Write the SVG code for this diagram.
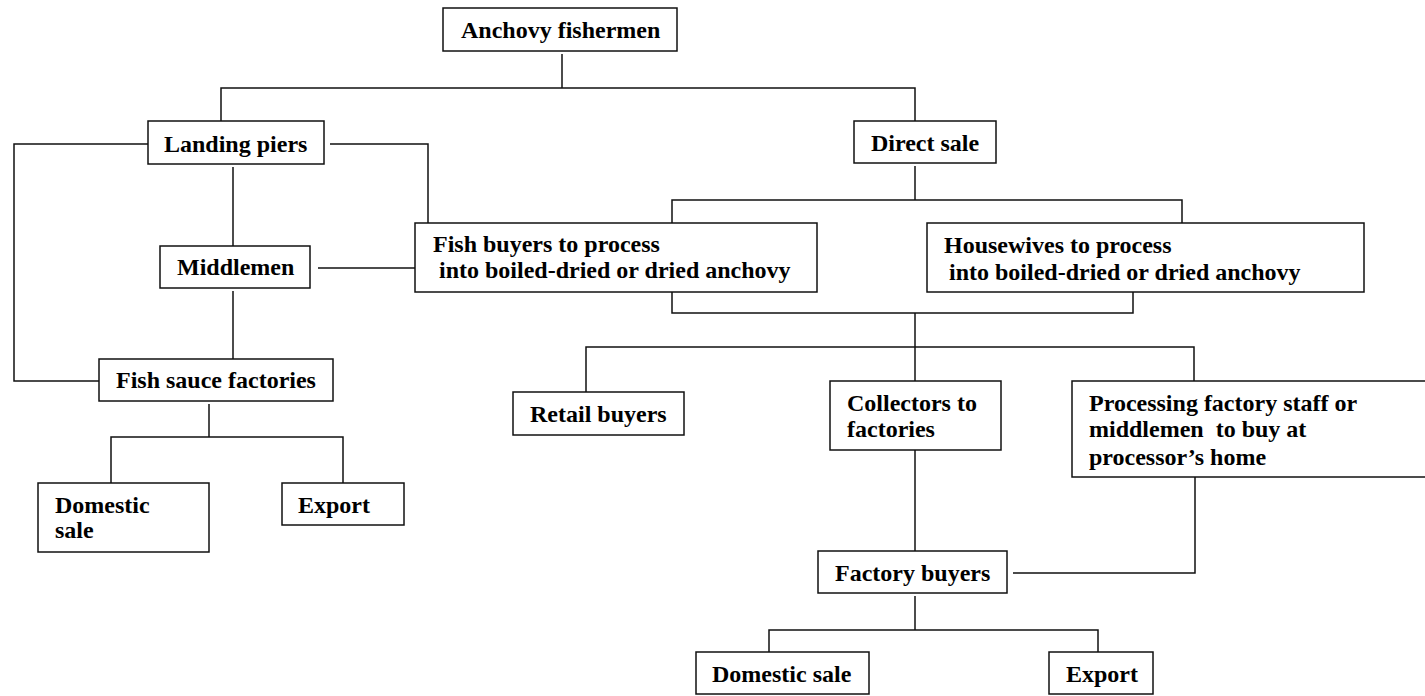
<svg xmlns="http://www.w3.org/2000/svg" width="1425" height="696" viewBox="0 0 1425 696">
<style>
.box{fill:#fff;stroke:#111;stroke-width:1.5}
.ln{fill:none;stroke:#111;stroke-width:1.5}
text{font-family:"Liberation Serif","Times New Roman",serif;font-weight:bold;font-size:24px;fill:#000}
</style>
<rect width="1425" height="696" fill="#fff"/>
<g id="connectors">
<polyline class="ln" points="562,54 562,88"/>
<polyline class="ln" points="221,121 221,88 915,88 915,121"/>
<polyline class="ln" points="148,144 14,144 14,381 99,381"/>
<polyline class="ln" points="330,144 428,144 428,223"/>
<polyline class="ln" points="233,167 233,246"/>
<polyline class="ln" points="318,268 416,268"/>
<polyline class="ln" points="233,291 233,359"/>
<polyline class="ln" points="209,404 209,437"/>
<polyline class="ln" points="111,483 111,437 343,437 343,483"/>
<polyline class="ln" points="915,166 915,200"/>
<polyline class="ln" points="672,223 672,200 1182,200 1182,223"/>
<polyline class="ln" points="672,292 672,313 1133,313 1133,292"/>
<polyline class="ln" points="915,313 915,381"/>
<polyline class="ln" points="586,392 586,347 1194,347 1194,381"/>
<polyline class="ln" points="915,449 915,551"/>
<polyline class="ln" points="1195,477 1195,573 1013,573"/>
<polyline class="ln" points="915,596 915,630"/>
<polyline class="ln" points="769,652 769,630 1098,630 1098,652"/>
</g>
<g id="anchovy-fishermen"><rect class="box" x="443" y="8" width="234" height="43"/><text x="461" y="38">Anchovy fishermen</text></g>
<g id="landing-piers"><rect class="box" x="148" y="121" width="176" height="43"/><text x="164" y="152">Landing piers</text></g>
<g id="direct-sale"><rect class="box" x="854" y="121" width="142" height="42"/><text x="871" y="151">Direct sale</text></g>
<g id="middlemen"><rect class="box" x="160" y="246" width="150" height="42"/><text x="177" y="275">Middlemen</text></g>
<g id="fish-buyers"><rect class="box" x="415" y="223" width="402" height="69"/><text x="433" y="252">Fish buyers to process</text><text x="439" y="278">into boiled-dried or dried anchovy</text></g>
<g id="housewives"><rect class="box" x="927" y="223" width="437" height="69"/><text x="944" y="253">Housewives to process</text><text x="949" y="280">into boiled-dried or dried anchovy</text></g>
<g id="fish-sauce-factories"><rect class="box" x="99" y="359" width="234" height="42"/><text x="116" y="388">Fish sauce factories</text></g>
<g id="domestic-sale-left"><rect class="box" x="38" y="483" width="171" height="69"/><text x="55" y="513">Domestic</text><text x="55" y="538">sale</text></g>
<g id="export-left"><rect class="box" x="282" y="483" width="122" height="42"/><text x="298" y="513">Export</text></g>
<g id="retail-buyers"><rect class="box" x="513" y="392" width="171" height="43"/><text x="530" y="422">Retail buyers</text></g>
<g id="collectors"><rect class="box" x="830" y="381" width="171" height="69"/><text x="847" y="411">Collectors to</text><text x="847" y="437">factories</text></g>
<g id="processing-staff"><rect class="box" x="1072" y="381" width="360" height="96"/><text x="1089" y="411">Processing factory staff or</text><text x="1089" y="437" xml:space="preserve">middlemen  to buy at</text><text x="1089" y="465">processor’s home</text></g>
<g id="factory-buyers"><rect class="box" x="818" y="551" width="189" height="42"/><text x="835" y="581">Factory buyers</text></g>
<g id="domestic-sale-bottom"><rect class="box" x="696" y="652" width="173" height="42"/><text x="712" y="682">Domestic sale</text></g>
<g id="export-bottom"><rect class="box" x="1049" y="652" width="104" height="42"/><text x="1066" y="682">Export</text></g>
</svg>
